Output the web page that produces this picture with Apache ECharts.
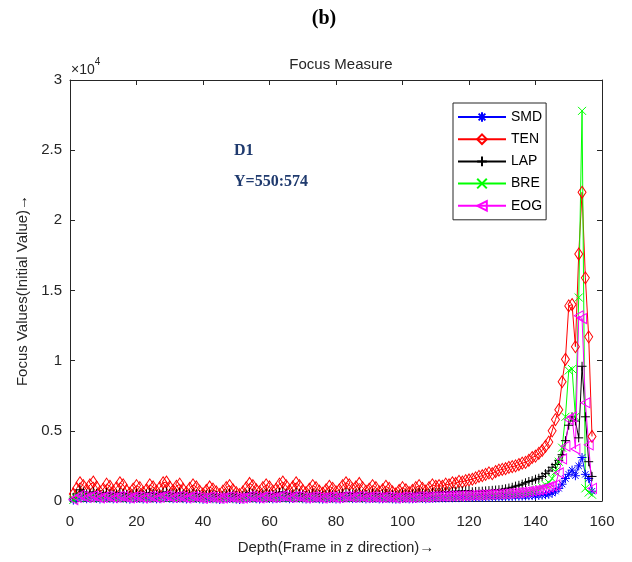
<!DOCTYPE html>
<html>
<head>
<meta charset="utf-8">
<script src="https://cdn.jsdelivr.net/npm/echarts@6/dist/echarts.min.js"></script>
<style>html,body{margin:0;padding:0;background:#fff}#c{width:632px;height:562px}</style>
</head>
<body>
<div id="c"></div>
<script>
// ---- data (frames 1..157) ----
const seriesNames = ['SMD', 'TEN', 'LAP', 'BRE', 'EOG'];
const xTicks = [0, 20, 40, 60, 80, 100, 120, 140, 160];
const yTickLabels = ['0', '0.5', '1', '1.5', '2', '2.5', '3'];

const SMD = [
  60,150,260,210,160,190,230,180,140,170,
  210,190,150,170,220,200,160,130,170,200,
  180,140,160,210,190,150,170,220,240,190,
  160,190,210,170,140,170,200,180,150,120,
  150,180,160,140,110,140,170,190,160,130,
  110,140,170,210,190,160,140,170,200,180,
  150,170,210,230,200,160,180,220,200,160,
  140,160,190,180,150,130,160,180,170,140,
  160,190,220,200,170,180,210,180,150,170,
  190,180,150,160,190,170,150,130,150,180,
  170,150,160,180,200,180,160,180,200,200,
  210,220,215,230,225,240,235,250,245,260,
  255,265,270,268,275,285,280,295,300,305,
  310,320,325,335,340,350,355,370,380,390,
  400,420,450,480,560,700,900,1200,1600,1900,
  2200,1800,2500,3100,1900,1600,700
];
const TEN = [
  500,900,1300,1100,800,1150,1350,1000,650,850,
  1200,1050,700,950,1300,1150,750,550,850,1100,
  950,600,800,1150,1000,700,950,1300,1350,1000,
  750,1050,1200,850,600,900,1150,1000,700,500,
  750,1000,850,650,450,700,950,1100,800,600,
  450,650,950,1250,1100,800,650,950,1150,1000,
  700,850,1200,1350,1100,750,1000,1300,1100,750,
  600,850,1100,950,700,550,800,1050,900,650,
  800,1100,1300,1150,850,1000,1250,950,700,850,
  1100,950,650,800,1050,900,650,500,750,950,
  800,600,750,950,1100,900,700,950,1150,1050,
  1100,1050,1200,1150,1300,1250,1400,1350,1450,1500,
  1550,1650,1750,1800,1900,2000,1950,2100,2200,2250,
  2300,2400,2450,2500,2600,2700,2750,2900,3100,3200,
  3400,3600,3900,4200,5000,5800,6500,8500,10100,13900,
  14000,11000,17600,22000,15900,11700,4600
];
const LAP = [
  200,500,800,650,500,550,650,550,450,500,
  600,550,450,500,600,550,450,400,500,550,
  500,450,500,600,550,450,500,600,650,550,
  500,550,600,500,450,500,550,500,450,400,
  450,500,450,400,350,400,500,550,450,400,
  350,400,500,600,550,450,400,500,550,500,
  450,500,600,650,550,450,500,600,550,450,
  400,450,550,500,450,400,450,500,450,400,
  450,550,600,550,500,550,600,500,450,500,
  550,500,450,500,550,500,450,400,450,500,
  500,450,500,550,600,550,500,550,600,600,
  620,650,630,680,660,700,690,720,710,740,
  660,680,690,700,720,740,760,780,800,830,
  870,920,980,1060,1120,1200,1300,1390,1450,1550,
  1620,1750,1950,2140,2400,2600,2900,3300,4300,5400,
  6000,5700,4500,9600,6000,2800,1750
];
const BRE = [
  80,200,330,270,210,240,290,230,180,210,
  260,240,190,210,270,250,200,170,210,250,
  230,180,200,260,240,190,210,270,290,240,
  200,240,260,210,180,210,250,230,190,160,
  190,230,200,180,150,180,220,240,200,170,
  150,180,220,260,240,200,180,210,250,230,
  190,210,260,290,250,200,230,270,250,200,
  180,200,240,230,190,170,200,230,210,180,
  200,240,270,250,210,230,260,220,190,210,
  240,220,190,200,240,210,190,170,190,220,
  210,190,200,230,250,230,210,230,250,260,
  270,280,275,290,285,300,300,315,310,330,
  330,345,350,355,365,380,380,400,410,420,
  440,460,470,500,530,560,590,640,700,780,
  880,1000,1150,1300,1600,2100,2800,3800,6000,9300,
  9400,6000,14500,27800,900,600,450
];
const EOG = [
  100,250,400,330,260,300,360,290,230,270,
  330,300,240,270,340,310,250,220,270,310,
  290,230,260,330,300,240,270,340,360,300,
  260,300,330,270,230,270,320,290,240,210,
  240,290,260,230,200,230,280,300,260,220,
  200,230,280,330,300,260,230,270,320,290,
  250,270,330,360,310,260,290,340,310,260,
  230,260,300,290,250,220,260,290,270,230,
  260,300,340,310,270,290,330,290,250,270,
  300,280,250,260,300,270,250,220,250,280,
  270,250,260,290,310,290,270,290,320,330,
  340,350,345,360,360,375,370,390,390,410,
  410,425,430,440,450,465,470,490,500,510,
  525,545,560,580,600,630,650,680,720,760,
  800,850,920,1000,1080,1150,2000,3000,3900,5800,
  6000,3700,13200,13000,7000,4000,900
];
const frames = SMD.map((_, i) => i + 1);

// ---- styling ----
const FONT = '"Liberation Sans", Arial, Helvetica, sans-serif';
const SERIF = '"Liberation Serif", "Times New Roman", serif';
const AX = '#262626';
const colors = { SMD: '#0000ff', TEN: '#ff0000', LAP: '#000000', BRE: '#00ff00', EOG: '#ff00ff' };
const symbols = {
  SMD: 'path://M5,0L5,10M0,5L10,5M1.5,1.5L8.5,8.5M8.5,1.5L1.5,8.5',
  TEN: 'path://M5,0L10,5L5,10L0,5Z',
  LAP: 'path://M5,0L5,10M0,5L10,5',
  BRE: 'path://M0,0L10,10M10,0L0,10',
  EOG: 'path://M0,5L10,0L10,10Z'
};
const sizes = { SMD: 9, TEN: [8, 12], LAP: 9, BRE: 8, EOG: [9, 10] };
const values = { SMD, TEN, LAP, BRE, EOG };

const series = seriesNames.map(n => ({
  name: n,
  type: 'line',
  xAxisIndex: 0,
  yAxisIndex: 0,
  data: frames.map((f, i) => [f, values[n][i]]),
  symbol: symbols[n],
  symbolSize: sizes[n],
  showSymbol: true,
  lineStyle: { color: colors[n], width: 1 },
  itemStyle: { color: 'rgba(0,0,0,0)', borderColor: colors[n], borderWidth: 1 },
  emphasis: { disabled: true },
  silent: true,
  animation: false
}));

const baseX = {
  type: 'value', min: 0, max: 160, interval: 20,
  axisLine: { onZero: false, lineStyle: { color: AX, width: 1 } },
  axisTick: { inside: true, length: 5, lineStyle: { color: AX } },
  splitLine: { show: false }
};
const baseY = {
  type: 'value', min: 0, max: 30000, interval: 5000,
  axisLine: { onZero: false, lineStyle: { color: AX, width: 1 } },
  axisTick: { inside: true, length: 5, lineStyle: { color: AX } },
  splitLine: { show: false }
};

const option = {
  backgroundColor: '#fff',
  animation: false,
  title: [
    { text: '(b)', left: 319, top: 4, textAlign: 'center',
      textStyle: { fontFamily: SERIF, fontWeight: 'bold', fontSize: 20, color: '#000' } },
    { text: 'Focus Measure', left: 336, top: 52, textAlign: 'center',
      textStyle: { fontFamily: FONT, fontWeight: 'normal', fontSize: 15, color: AX } }
  ],
  grid: { left: 70, right: 30, top: 80, bottom: 61, containLabel: false },
  legend: {
    data: seriesNames,
    orient: 'vertical',
    left: 453, top: 103,
    itemWidth: 48, itemHeight: 12, itemGap: 8.2,
    padding: [7, 4, 7, 4],
    borderColor: AX, borderWidth: 1,
    backgroundColor: '#fff',
    textStyle: { fontFamily: FONT, fontSize: 14, color: '#000' },
    selectedMode: false
  },
  xAxis: [
    Object.assign({}, baseX, {
      position: 'bottom',
      axisLabel: { color: AX, fontSize: 15, fontFamily: FONT, margin: 13,
        formatter: v => (xTicks.indexOf(v) >= 0 ? String(v) : '') },
      name: 'Depth(Frame in z direction)\u2192',
      nameLocation: 'middle', nameGap: 39,
      nameTextStyle: { color: AX, fontSize: 15, fontFamily: FONT }
    }),
    Object.assign({}, baseX, { position: 'top', axisLabel: { show: false } })
  ],
  yAxis: [
    Object.assign({}, baseY, {
      position: 'left',
      axisLabel: { color: AX, fontSize: 15, fontFamily: FONT, margin: 8,
        formatter: v => yTickLabels[Math.round(v / 5000)] },
      name: 'Focus Values(Initial Value)\u2192',
      nameLocation: 'middle', nameGap: 35,
      nameTextStyle: { color: AX, fontSize: 15, fontFamily: FONT }
    }),
    Object.assign({}, baseY, { position: 'right', axisLabel: { show: false } })
  ],
  graphic: [
    { type: 'text', left: 71, top: 57, silent: true,
      style: {
        text: '{a|\u00d710}{s|4}',
        rich: {
          a: { fontSize: 14, fontFamily: FONT, fill: AX, lineHeight: 20, verticalAlign: 'bottom' },
          s: { fontSize: 10, fontFamily: FONT, fill: AX, lineHeight: 20, verticalAlign: 'top' }
        }
      } },
    { type: 'text', left: 234, top: 143, silent: true,
      style: { text: 'D1', font: 'bold 16px ' + SERIF, fill: '#1f3a6e' } },
    { type: 'text', left: 234, top: 174, silent: true,
      style: { text: 'Y=550:574', font: 'bold 16px ' + SERIF, fill: '#1f3a6e' } }
  ],
  series: series
};

const chart = echarts.init(document.getElementById('c'), null, { renderer: 'canvas' });
chart.setOption(option);
</script>
</body>
</html>
